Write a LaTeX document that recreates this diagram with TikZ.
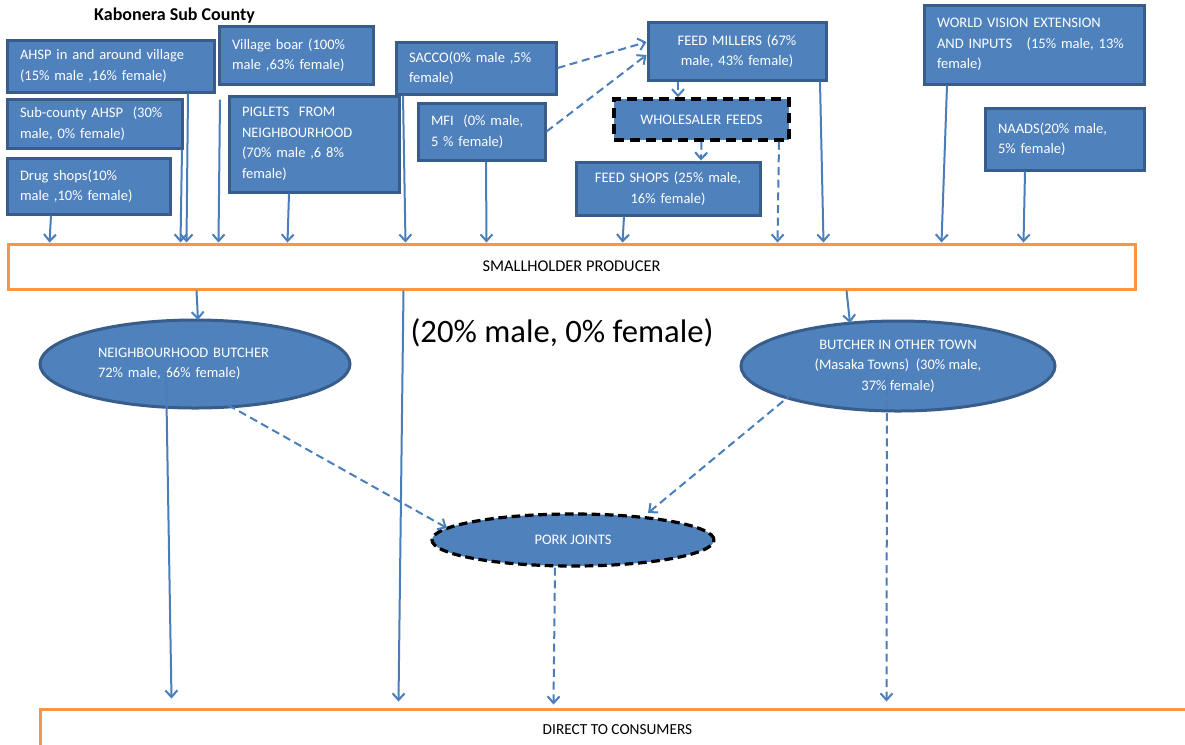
\documentclass[tikz,border=0pt]{standalone}
\usepackage{fontspec}
\setmainfont{Carlito}
\usetikzlibrary{arrows.meta,shapes.geometric,calc}
\definecolor{boxblue}{HTML}{4F81BD}
\definecolor{boxedge}{HTML}{385D8A}
\definecolor{arrblue}{HTML}{4A7EBB}
\definecolor{chainorange}{HTML}{F79646}
\begin{document}
\begin{tikzpicture}[x=0.75pt,y=-0.75pt,
  txt/.style={font=\fontsize{10.9}{15.4}\selectfont},
  actor/.style={draw=boxedge, fill=boxblue, line width=2.25pt, text=white, txt,
    inner xsep=9.75pt, inner ysep=0pt, align=left},
  px/.style 2 args={minimum width=#1*0.75pt, minimum height=#2*0.75pt},
  pbox/.style 2 args={px={#1}{#2},
    /utils/exec={\pgfmathsetlengthmacro{\boxtw}{(#1-26)*0.75}},
    text width=\boxtw},
  ell/.style={ellipse, draw=boxedge, fill=boxblue, line width=2.25pt, text=white, txt, inner sep=0pt},
  stage/.style={draw=chainorange, fill=white, line width=2.25pt, inner sep=0pt},
  arr/.style={draw=arrblue, line width=1.5pt, -{Straight Barb[length=5pt,width=9pt]}},
  darr/.style={arr, dash pattern=on 6pt off 3.5pt}]

\useasboundingbox (0,0) rectangle (1185,744);
\clip (0,0) rectangle (1185,744);

% heading
\node[font=\bfseries\fontsize{13.5}{16}\selectfont] (title) at (174.5,16) {Kabonera Sub County};

% input suppliers and services
\node[actor, pbox={207}{52}] (ahsp) at (110.5,66)
  {\mbox{AHSP in and around village}\\\mbox{(15\% male ,16\% female)}};
\node[actor, pbox={175}{49}] (sub) at (94.5,123.5)
  {\mbox{Sub-county AHSP\ \ (30\%}\\\mbox{male, 0\% female)}};
\node[actor, pbox={163}{56}] (drug) at (88.5,186)
  {\mbox{Drug shops(10\%}\\\mbox{male ,10\% female)}};
\node[actor, pbox={154}{58}] (boar) at (296,55)
  {\mbox{Village boar (100\%}\\\mbox{male ,63\% female)}};
\node[actor, pbox={170}{96}] (pig) at (314,144)
  {\mbox{PIGLETS\ \ FROM}\\\mbox{NEIGHBOURHOOD}\\\mbox{(70\% male ,6 8\%}\\\mbox{female)}};
\node[actor, pbox={160}{52}] (sacco) at (476,68)
  {\mbox{SACCO(0\% male ,5\%}\\\mbox{female)}};
\node[actor, pbox={127}{57}] (mfi) at (481.5,131.5)
  {\mbox{MFI\ \ (0\% male,}\\\mbox{5 \% female)}};
\node[actor, pbox={178}{58}, align=center] (fm) at (737,51)
  {\mbox{FEED MILLERS (67\%}\\\mbox{male, 43\% female)}};
\node[actor, pbox={175}{41}, align=center, draw=black, line width=2.6pt,
  dash pattern=on 7.5pt off 4.5pt] (wh) at (701.5,119.5) {\mbox{WHOLESALER FEEDS}};
\node[actor, pbox={184}{53}, align=center] (fs) at (668,188.5)
  {\mbox{FEED SHOPS (25\% male,}\\\mbox{16\% female)}};
\node[actor, pbox={220}{79}] (wv) at (1034,44.5)
  {\mbox{WORLD VISION EXTENSION}\\\mbox{AND INPUTS\ \ \ (15\% male, 13\%}\\\mbox{female)}};
\node[actor, pbox={159}{62}] (naads) at (1064.5,139)
  {\mbox{NAADS(20\% male,}\\\mbox{5\% female)}};

% producers and market outlets
\node[stage, px={1127}{45}, font=\fontsize{12.3}{15}\selectfont] (prod) at (571.5,266.5) {SMALLHOLDER PRODUCER};
\node[font=\fontsize{24.5}{29}\selectfont] (share) at (562,333) {(20\% male, 0\% female)};
\node[ell, px={310}{88}, text width=145.5pt, align=left] (nb) at (195,364)
  {\mbox{NEIGHBOURHOOD BUTCHER}\\\mbox{72\% male, 66\% female)}};
\node[ell, px={314}{90}, align=center] (bt) at (898,366)
  {BUTCHER IN OTHER TOWN\\(Masaka Towns)\ \ (30\% male,\\37\% female)};
\node[ell, px={282}{52}, draw=black, line width=2.4pt, dash pattern=on 6.5pt off 3.5pt] (pj) at (573,540) {PORK JOINTS};
\node[stage, px={1155}{41}, font=\fontsize{11.5}{14}\selectfont] (dir) at (617.5,729.5) {DIRECT TO CONSUMERS};

% supplies into the producer
\draw[arr] ($(drug.south)+(-37.5,0)$) -- ($(prod.north west)+(43,0)$);
\draw[arr] ($(sub.south)+(87.5,0)$) -- ($(prod.north west)+(174,0)$);
\draw[arr] ($(ahsp.south)+(77.5,0)$) -- ($(prod.north west)+(180,0)$);
\draw[arr] ($(boar.south)+(-76,14)$) -- ($(prod.north west)+(212,0)$);
\draw[arr] ($(pig.south)+(-25,0)$) -- ($(prod.north west)+(281,0)$);
\draw[arr] ($(sacco.south)+(-73,0)$) -- ($(prod.north west)+(399,0)$);
\draw[arr] ($(mfi.south)+(4.5,0)$) -- ($(prod.north west)+(480,0)$);
\draw[arr] ($(fs.south)+(-44,0)$) -- ($(prod.north west)+(616,0)$);
\draw[darr] ($(wh.south)+(77.5,0)$) -- ($(prod.north west)+(771,0)$);
\draw[arr] ($(fm.south)+(83,0)$) -- ($(prod.north west)+(817,0)$);
\draw[arr] ($(wv.south)+(-87,0)$) -- ($(prod.north west)+(935,0)$);
\draw[arr] ($(naads.south)+(-39.5,0)$) -- ($(prod.north west)+(1017,0)$);

% finance and feed chain
\draw[darr] (sacco.east) -- ($(fm.west)+(0,-9)$);
\draw[darr] (mfi.east) -- ($(fm.west)+(0,4)$);
\draw[darr] ($(fm.south)+(-59,0)$) -- ($(wh.north)+(-23.5,0)$);
\draw[darr] (wh.south) -- ($(fs.north)+(33,0)$);

% pigs and pork towards consumers
\draw[arr] ($(prod.south west)+(190,0)$) -- ($(nb.center)+(3,-44)$);
\draw[arr] ($(prod.south west)+(397,0)$) -- ($(dir.north west)+(360,-6)$);
\draw[arr] ($(prod.south west)+(840,0)$) -- ($(bt.center)+(-48,-43)$);
\draw[arr] ($(nb.center)+(-29,8)$) -- ($(dir.north west)+(133,-9)$);
\draw[darr] ($(nb.center)+(33,41)$) -- ($(pj.center)+(-126,-12)$);
\draw[darr] ($(bt.center)+(-105,27)$) -- ($(pj.center)+(75,-27)$);
\draw[darr] ($(bt.center)+(-11,9)$) -- ($(dir.north west)+(848,-6)$);
\draw[darr] ($(pj.south)+(-18,0)$) -- ($(dir.north west)+(515,-3)$);
\end{tikzpicture}
\end{document}
